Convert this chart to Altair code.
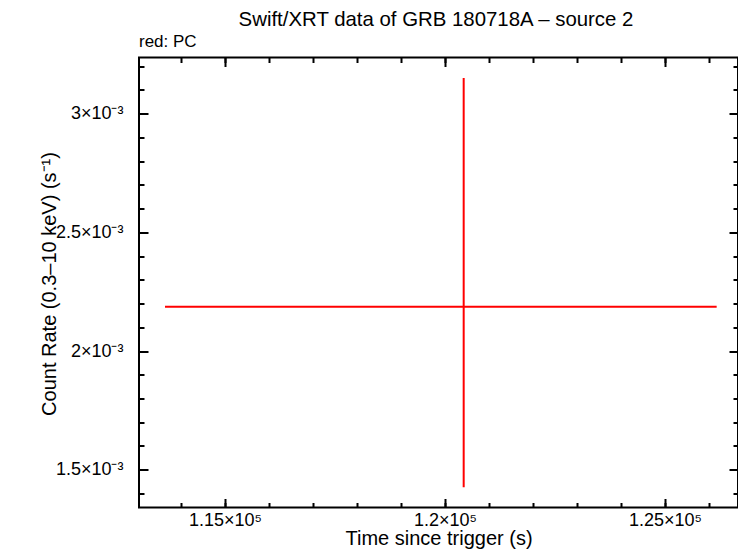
import altair as alt
import pandas as pd

# ---- data ----
time = [120425]
time_lo = [113636]
time_hi = [126175]
rate = [2.1867e-3]
rate_lo = [1.4258e-3]
rate_hi = [3.1504e-3]

title_text = ["Swift/XRT data of GRB 180718A \u2013 source 2"]
legend_text = ["red: PC"]
x_title = "Time since trigger (s)"
y_title = "Count Rate (0.3\u201310 keV) (s\u207b\u00b9)"

x_major = [115000, 120000, 125000]
x_minor = [114000, 115000, 116000, 117000, 118000, 119000, 120000,
           121000, 122000, 123000, 124000, 125000, 126000]
y_major = [0.0015, 0.002, 0.0025, 0.003]
y_minor = [0.0014, 0.0015, 0.0016, 0.0017, 0.0018, 0.0019, 0.0020,
           0.0021, 0.0022, 0.0023, 0.0024, 0.0025, 0.0026, 0.0027,
           0.0028, 0.0029, 0.0030, 0.0031, 0.0032]

x_domain = [113045, 126660]
y_domain = [0.0013407, 0.0032368]

W, H = 599, 450
FONT = "Liberation Sans"

df = pd.DataFrame({"t": time, "tlo": time_lo, "thi": time_hi,
                   "r": rate, "rlo": rate_lo, "rhi": rate_hi})

xs = alt.Scale(domain=x_domain, nice=False, zero=False)
ys = alt.Scale(domain=y_domain, nice=False, zero=False)

base = alt.Chart(df)

x_axis_main = alt.Axis(
    orient="bottom", values=x_major, ticks=False, tickSize=0, domain=False, grid=False,
    labelExpr="format(datum.value / 100000, '.3~f') + '\u00d710\u2075'",
    labelFont=FONT, labelFontSize=18, labelColor="black", labelPadding=17.5,
    labelBaseline="alphabetic", labelFlush=False, labelOverlap=False,
    title=x_title, titleFont=FONT, titleFontSize=20, titleFontWeight="normal",
    titleColor="black", titleY=36.5, titleBaseline="alphabetic")

y_axis_main = alt.Axis(
    orient="left", values=y_major, ticks=False, tickSize=0, domain=False, grid=False,
    labelExpr="format(datum.value * 1000, '.2~f') + '\u00d710\u207b\u00b3'",
    labelFont=FONT, labelFontSize=18, labelColor="black", labelPadding=16,
    labelAlign="right", labelBaseline="middle", labelFlush=False, labelOverlap=False,
    title=y_title, titleFont=FONT, titleFontSize=20, titleFontWeight="normal",
    titleColor="black", titleAngle=270, titleX=-84, titleY=226,
    titleAlign="center", titleBaseline="alphabetic")

vert = base.mark_rule(color="#ff0000", strokeWidth=2).encode(
    x=alt.X("t:Q", scale=xs, axis=x_axis_main),
    y=alt.Y("rlo:Q", scale=ys, axis=y_axis_main),
    y2="rhi:Q",
)

horiz = base.mark_rule(color="#ff0000", strokeWidth=2).encode(
    x=alt.X("tlo:Q", scale=xs, axis=None),
    x2="thi:Q",
    y=alt.Y("r:Q", scale=ys, axis=None),
)


def tick_layer(x_orient, y_orient, xvals, yvals, size):
    return base.mark_point(opacity=0).encode(
        x=alt.X("t:Q", scale=xs, axis=alt.Axis(
            orient=x_orient, offset=-H, values=xvals, labels=False, domain=False,
            grid=False, ticks=True, tickSize=size, tickWidth=2, tickColor="black",
            title="")),
        y=alt.Y("r:Q", scale=ys, axis=alt.Axis(
            orient=y_orient, offset=-W, values=yvals, labels=False, domain=False,
            grid=False, ticks=True, tickSize=size, tickWidth=2, tickColor="black",
            title="")),
    )


t1 = tick_layer("top", "right", x_major, y_major, 9)
t2 = tick_layer("top", "right", x_minor, y_minor, 5)
t3 = tick_layer("bottom", "left", x_major, y_major, 9)
t4 = tick_layer("bottom", "left", x_minor, y_minor, 5)

title_mark = alt.Chart(pd.DataFrame({"txt": title_text})).mark_text(
    font=FONT, fontSize=20.4, align="center", baseline="alphabetic", color="black"
).encode(x=alt.value(297), y=alt.value(-32), text="txt:N")

legend_mark = alt.Chart(pd.DataFrame({"txt": legend_text})).mark_text(
    font=FONT, fontSize=17, align="left", baseline="alphabetic", color="black"
).encode(x=alt.value(0), y=alt.value(-10.5), text="txt:N")

chart = alt.layer(vert, horiz, t1, t2, t3, t4, title_mark, legend_mark).resolve_scale(
    x="independent", y="independent"
).properties(
    width=W, height=H,
    autosize=alt.AutoSizeParams(type="none"),
    padding={"left": 131, "top": 49.5, "right": 0, "bottom": 41.5},
    background="white",
).configure_view(stroke="black", strokeWidth=2)

chart.save("out.html", embed_options={"renderer": "svg", "actions": False})
